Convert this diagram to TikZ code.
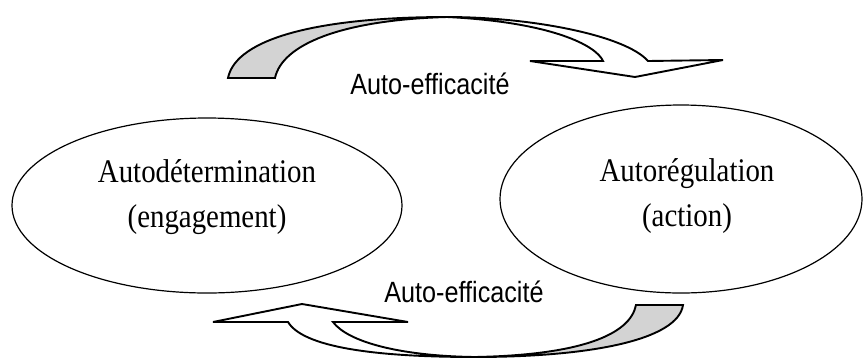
\documentclass[tikz,border=0pt]{standalone}
\usepackage{fontspec}
\setmainfont{Liberation Serif}
\newfontfamily\ovalfont[FakeStretch=0.875]{Liberation Serif}
\newfontfamily\labelfont[FakeStretch=0.86]{Liberation Sans}
\usetikzlibrary{shapes.geometric}
\definecolor{bandgray}{RGB}{211,211,211}
\tikzset{
  oval/.style={draw, ellipse, line width=1.2pt, inner sep=0pt},
  ovaltext/.style={align=center, inner sep=0pt, font=\ovalfont\fontsize{33}{45}\selectfont},
  looplabel/.style={anchor=base, inner sep=0pt, font=\labelfont\fontsize{29.3}{35}\selectfont},
  band/.style={line width=1.9pt, line join=miter, draw=black},
}
\begin{document}
\begin{tikzpicture}[x=1pt, y=-1pt]
\useasboundingbox (0,0) rectangle (865,360);

% the two ovals
\node[oval, minimum width=390pt, minimum height=175pt] (det) at (207,205.5) {};
\node[oval, minimum width=362pt, minimum height=188pt] (reg) at (681,199) {};
\node[ovaltext] (dettext) at (207,197.5) {Autodétermination\\(engagement)};
\node[ovaltext] (regtext) at (687,196.5) {Autorégulation\\(action)};

% upper curved arrow: grey underside on the left
\filldraw[band, fill=bandgray]
  (275,78) .. controls (282,45) and (340,20) .. (447,17)
  .. controls (320,17) and (236,38) .. (228,78) -- cycle;
% upper curved arrow: white face and flattened head
\filldraw[band, fill=white]
  (447,17) .. controls (530,17) and (625,35) .. (648,61)
  -- (723,60) -- (635,77) -- (530,61) -- (603,61)
  .. controls (596,45) and (550,22) .. (447,17) -- cycle;

% lower curved arrow: grey underside on the right
\filldraw[band, fill=bandgray]
  (636,305) .. controls (630,335) and (580,355) .. (475,357)
  .. controls (590,357) and (678,340) .. (683,305) -- cycle;
% lower curved arrow: white face and flattened head
\filldraw[band, fill=white]
  (475,357) .. controls (390,357) and (305,350) .. (288,322)
  -- (213,322) -- (302,304) -- (408,322) -- (333,322)
  .. controls (348,342) and (400,356) .. (475,357) -- cycle;

% labels
\node[looplabel] (topeff) at (430,94) {Auto-efficacité};
\node[looplabel] (boteff) at (464,302) {Auto-efficacité};
\end{tikzpicture}
\end{document}
